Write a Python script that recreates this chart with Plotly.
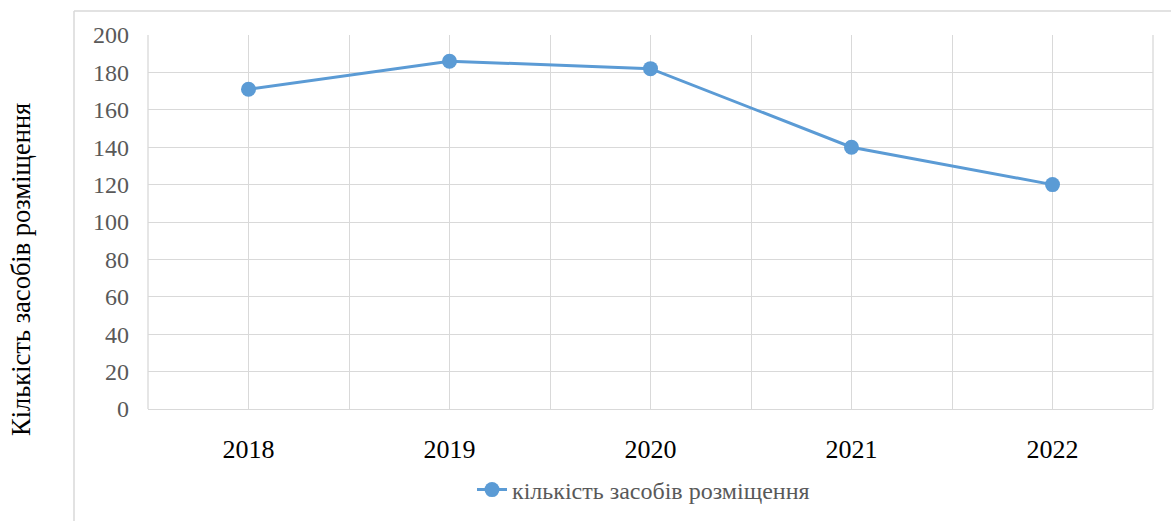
import plotly.graph_objects as go

years = ["2018", "2019", "2020", "2021", "2022"]
values = [171, 186, 182, 140, 120]
series_name = "кількість засобів розміщення"
y_title = "Кількість засобів розміщення"

W, H = 1171, 521
L, R, T, B = 148, 18, 35, 112
pw, ph = W - L - R, H - T - B

def px_x(x):
    return (x - L) / pw

def px_y(y):
    return (H - B - y) / ph

xs = list(range(len(years)))
grid = "#D9D9D9"
font = "'Liberation Serif', 'Times New Roman', serif"

fig = go.Figure()
fig.add_trace(go.Scatter(
    x=xs, y=values, mode="lines+markers", name=series_name,
    line=dict(color="#5B9BD5", width=3),
    marker=dict(color="#5B9BD5", size=15),
    cliponaxis=False,
))

edge_lines = [dict(type="line", xref="paper", yref="paper", x0=e, x1=e, y0=0, y1=1,
                   line=dict(color=grid, width=1.3), layer="below")
              for e in (0, 1)]

fig.update_layout(
    width=W, height=H,
    margin=dict(l=L, r=R, t=T, b=B, autoexpand=False),
    paper_bgcolor="white", plot_bgcolor="rgba(0,0,0,0)",
    showlegend=True,
    legend=dict(orientation="h", x=px_x(472), xanchor="left", y=px_y(490), yanchor="middle",
                font=dict(family=font, size=24, color="#595959"), bgcolor="rgba(0,0,0,0)"),
    xaxis=dict(range=[-0.5, len(years) - 0.5], tickvals=xs, ticktext=years,
               showgrid=True, gridcolor=grid, gridwidth=1.3,
               minor=dict(tickvals=[i - 0.5 for i in range(len(years) + 1)], showgrid=True,
                          gridcolor=grid, gridwidth=1.3),
               showline=True, linecolor=grid, linewidth=1.3, zeroline=False,
               ticks="", ticklabelstandoff=17,
               tickfont=dict(family=font, size=26, color="#000000")),
    yaxis=dict(range=[0, 200], dtick=20, showgrid=True, gridcolor=grid, gridwidth=1.3,
               zeroline=False, showline=False, ticks="", ticklabelstandoff=18,
               tickfont=dict(family=font, size=24, color="#595959")),
    annotations=[dict(text=y_title, textangle=-90, xref="paper", yref="paper",
                      x=px_x(21), y=px_y(270), xanchor="center", yanchor="middle",
                      showarrow=False, font=dict(family=font, size=26.5, color="#000000"))],
    shapes=edge_lines + [
        dict(type="line", xref="paper", yref="paper", x0=px_x(74), x1=px_x(74),
             y0=px_y(530), y1=px_y(11), line=dict(color=grid, width=1.5)),
        dict(type="line", xref="paper", yref="paper", x0=px_x(74), x1=px_x(1180),
             y0=px_y(11), y1=px_y(11), line=dict(color=grid, width=1.5)),
    ],
)

fig.write_html("out.html")
